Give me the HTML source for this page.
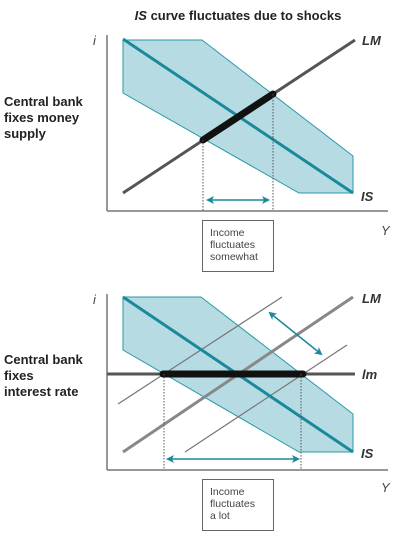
<!DOCTYPE html>
<html><head><meta charset="utf-8"><style>
body{margin:0;background:#fff;width:411px;height:539px;overflow:hidden}
svg{display:block;font-family:"Liberation Sans",sans-serif}
</style></head><body>
<svg width="411" height="539" viewBox="0 0 411 539">
<defs>
<marker id="ah" markerWidth="8" markerHeight="8" refX="6" refY="4" orient="auto-start-reverse" markerUnits="userSpaceOnUse"><path d="M0,0 L8,4 L0,8 L2,4 Z" fill="#1a8a9a"/></marker>
</defs>
<text x="238" y="20" text-anchor="middle" font-size="13" font-weight="bold" fill="#222"><tspan font-style="italic">IS</tspan> curve fluctuates due to shocks</text>

<g>
<text x="4" y="106" font-size="13" font-weight="bold" fill="#222"><tspan x="4">Central bank</tspan><tspan x="4" dy="16">fixes money</tspan><tspan x="4" dy="16">supply</tspan></text>
<polygon points="123,40 202,40 353,156 353,193 299,193 123,93" fill="#b7dbe3" stroke="#2a9aaa" stroke-width="1"/>
<line x1="107" y1="35" x2="107" y2="211" stroke="#777" stroke-width="1.5"/>
<line x1="107" y1="211" x2="388" y2="211" stroke="#777" stroke-width="1.5"/>
<text x="93" y="45" font-size="13" font-style="italic" fill="#444">i</text>
<text x="381" y="235" font-size="13" font-style="italic" fill="#444">Y</text>
<line x1="123" y1="39" x2="353" y2="193" stroke="#1a8a9a" stroke-width="3"/>
<line x1="123" y1="193" x2="355" y2="40" stroke="#555" stroke-width="3"/>
<line x1="203" y1="140" x2="273" y2="94" stroke="#111" stroke-width="7" stroke-linecap="round"/>
<line x1="203" y1="140" x2="203" y2="211" stroke="#555" stroke-dasharray="1.5,1.5"/>
<line x1="273" y1="94" x2="273" y2="211" stroke="#555" stroke-dasharray="1.5,1.5"/>
<line x1="208" y1="200" x2="268" y2="200" stroke="#1a8a9a" stroke-width="1.5" marker-start="url(#ah)" marker-end="url(#ah)"/>
<text x="362" y="45" font-size="13" font-weight="bold" font-style="italic" fill="#333">LM</text>
<text x="361" y="201" font-size="13" font-weight="bold" font-style="italic" fill="#333">IS</text>
<rect x="202.5" y="220.5" width="71" height="51" fill="#fff" stroke="#666"/>
<text x="210" y="236" font-size="10.5" fill="#444"><tspan x="210">Income</tspan><tspan x="210" dy="12">fluctuates</tspan><tspan x="210" dy="12">somewhat</tspan></text>
</g>

<g>
<text x="4" y="364" font-size="13" font-weight="bold" fill="#222"><tspan x="4">Central bank</tspan><tspan x="4" dy="16">fixes</tspan><tspan x="4" dy="16">interest rate</tspan></text>
<polygon points="123,297 201,297 353,414 353,452 299,452 123,350" fill="#b7dbe3" stroke="#2a9aaa" stroke-width="1"/>
<line x1="107" y1="294" x2="107" y2="470" stroke="#777" stroke-width="1.5"/>
<line x1="107" y1="470" x2="388" y2="470" stroke="#777" stroke-width="1.5"/>
<text x="93" y="304" font-size="13" font-style="italic" fill="#444">i</text>
<text x="381" y="492" font-size="13" font-style="italic" fill="#444">Y</text>
<line x1="118" y1="404" x2="282" y2="297" stroke="#777" stroke-width="1.2"/>
<line x1="185" y1="452" x2="347" y2="345" stroke="#777" stroke-width="1.2"/>
<line x1="123" y1="297" x2="353" y2="452" stroke="#1a8a9a" stroke-width="3"/>
<line x1="123" y1="452" x2="353" y2="297" stroke="#888" stroke-width="3"/>
<line x1="107" y1="374" x2="355" y2="374" stroke="#555" stroke-width="3"/>
<line x1="163" y1="374" x2="303" y2="374" stroke="#111" stroke-width="7" stroke-linecap="round"/>
<line x1="164" y1="374" x2="164" y2="470" stroke="#555" stroke-dasharray="1.5,1.5"/>
<line x1="301" y1="374" x2="301" y2="470" stroke="#555" stroke-dasharray="1.5,1.5"/>
<line x1="168" y1="459" x2="298" y2="459" stroke="#1a8a9a" stroke-width="1.5" marker-start="url(#ah)" marker-end="url(#ah)"/>
<line x1="270" y1="313" x2="321" y2="354" stroke="#1a8a9a" stroke-width="1.5" marker-start="url(#ah)" marker-end="url(#ah)"/>
<text x="362" y="303" font-size="13" font-weight="bold" font-style="italic" fill="#333">LM</text>
<text x="362" y="379" font-size="13" font-weight="bold" font-style="italic" fill="#333">lm</text>
<text x="361" y="458" font-size="13" font-weight="bold" font-style="italic" fill="#333">IS</text>
<rect x="202.5" y="479.5" width="71" height="51" fill="#fff" stroke="#666"/>
<text x="210" y="495" font-size="10.5" fill="#444"><tspan x="210">Income</tspan><tspan x="210" dy="12">fluctuates</tspan><tspan x="210" dy="12">a lot</tspan></text>
</g>
</svg>
</body></html>
